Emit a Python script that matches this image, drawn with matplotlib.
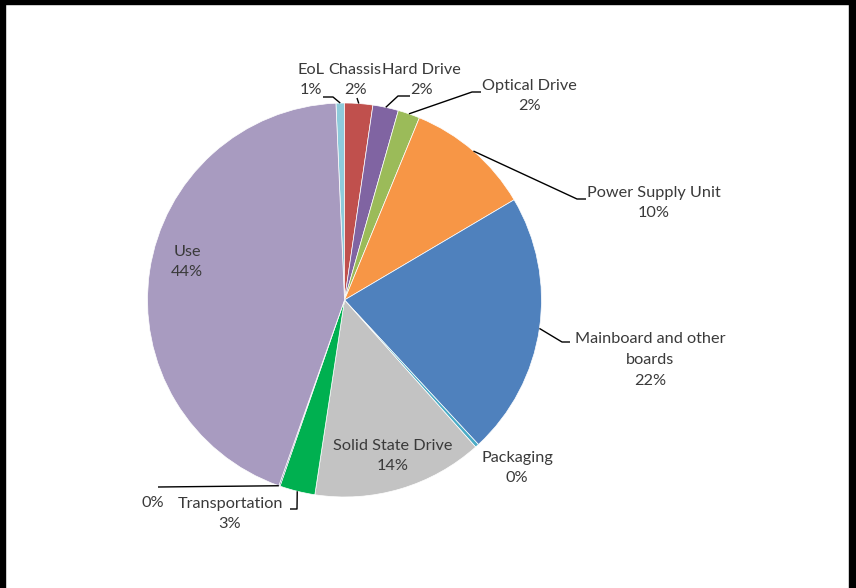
import numpy as np
import matplotlib.pyplot as plt
from matplotlib.patches import Rectangle

# slices, clockwise from 12 o'clock
parts = ["EoL", "Chassis", "Hard Drive", "Optical Drive", "Power Supply Unit",
         "Mainboard and other\nboards", "Packaging", "Solid State Drive",
         "Transportation", "", "Use"]
shares = [0.7, 2.3, 2.1, 1.8, 10.3, 21.6, 0.3, 14.0, 2.9, 0.1, 43.9]
colors = ["#8ECBDB", "#C0504D", "#8064A2", "#9BBB59", "#F79646", "#4F81BD",
          "#4BACC6", "#C3C3C3", "#00B050", "#2C4D75", "#A89BC0"]

W, H = 856, 588
CX, CY, R = 344.5, 300.0, 197.0

def px(x, y):
    return ((x - CX) / R, (CY - y) / R)

plt.rcParams['font.family'] = ['Lato', 'DejaVu Sans']

fig = plt.figure(figsize=(W / 100, H / 100), dpi=100)
ax = fig.add_axes([0, 0, 1, 1])

wedges, _ = ax.pie(shares, colors=colors, startangle=92.5, counterclock=False,
                   radius=1.0, center=(0, 0), frame=True,
                   wedgeprops=dict(edgecolor='white', linewidth=0.5))
ax.set_xlim(-CX / R, (W - CX) / R)
ax.set_ylim(-(H - CY) / R, CY / R)
ax.set_aspect('auto')
ax.axis('off')

# label centres (pixels) and leader elbows (pixels, ending on the wedge)
label_pos = [(311, 80), (355, 80), (421, 80), (529, 96), (654, 203),
             (650, 360), (517, 468), (393, 456), (230, 514), (153, 503), (187, 262)]
elbows = [[(323, 97), (333, 97)], [(357, 98)], [(410, 96), (398, 96)],
          [(481, 92), (472, 92)], [(586, 199), (577, 199)],
          [(570, 342), (562, 342)], None, None,
          [(290, 509), (297, 509)], [(158, 487)], None]

tc = "#3A3A3A"
for i, w in enumerate(wedges):
    lab = parts[i]
    txt = "%.0f%%" % shares[i]
    s = lab + "\n" + txt if lab else txt
    x, y = px(*label_pos[i])
    ax.text(x, y, s, ha='center', va='center', fontsize=11.7, color=tc,
            linespacing=1.62)
    if elbows[i] is not None:
        pts = [px(*p) for p in elbows[i]]
        if i == 9:
            # the tiny slice line goes to the Use / Transportation boundary
            a = np.deg2rad(w.theta1)
        else:
            a = np.deg2rad((w.theta1 + w.theta2) / 2)
        pts.append((np.cos(a), np.sin(a)))
        xs, ys = zip(*pts)
        ax.plot(xs, ys, color='black', lw=1.0, solid_capstyle='butt')

# black frame round the picture (no bottom edge)
fig.add_artist(Rectangle((0, 1 - 4 / H), 1, 4 / H, transform=fig.transFigure,
                         color='black'))
fig.add_artist(Rectangle((0, 0), 5 / W, 1, transform=fig.transFigure, color='black'))
fig.add_artist(Rectangle((1 - 7 / W, 0), 7 / W, 1, transform=fig.transFigure,
                         color='black'))

fig.savefig("out.png", dpi=100)
